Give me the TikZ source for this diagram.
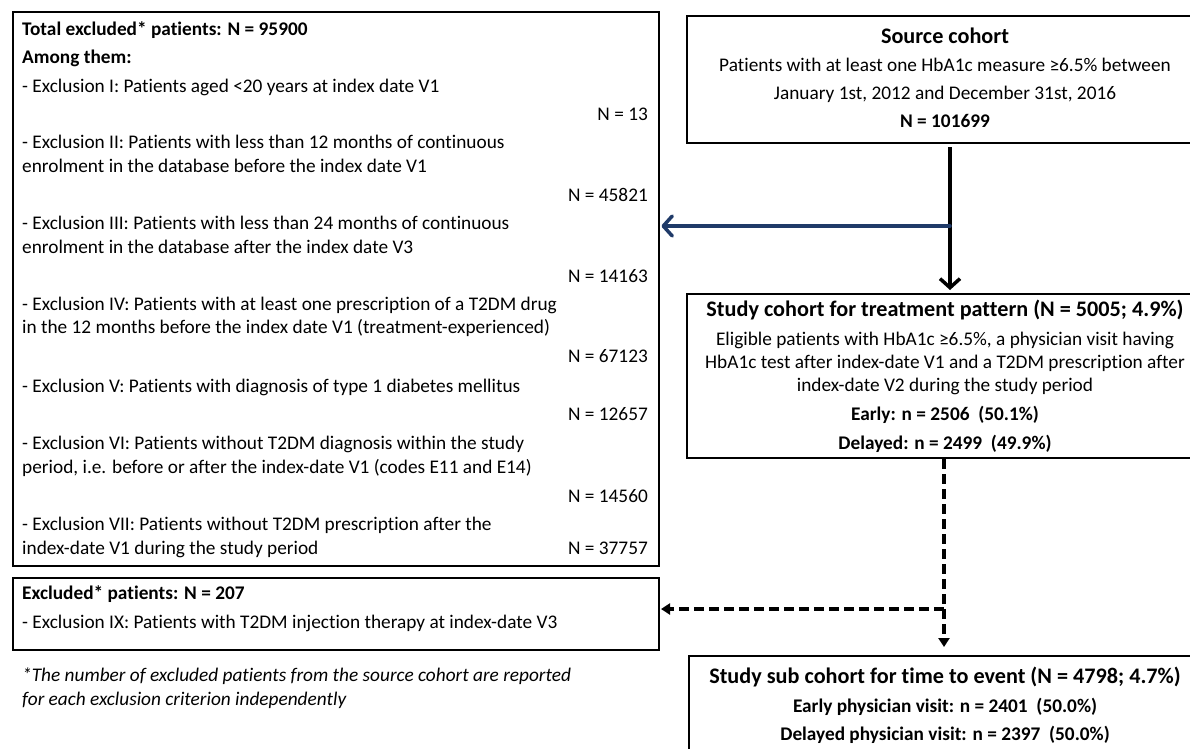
\documentclass[tikz,border=0pt]{standalone}
\usepackage{fontspec}
\setmainfont{Carlito}[Ligatures=NoCommon]
\usetikzlibrary{arrows.meta}
\definecolor{navy}{HTML}{1F3A68}
\begin{document}
\begin{tikzpicture}[x=1pt,y=-1pt,
  box/.style={draw=black, line width=2pt, anchor=north west, inner sep=0pt, fill=white},
  txt/.style={anchor=base west, inner sep=0pt, font=\fontsize{19.3}{23}\selectfont},
  txtb/.style={txt, font=\fontsize{19.3}{23}\selectfont\bfseries},
  txti/.style={txt, font=\fontsize{19.3}{23}\selectfont\itshape},
  num/.style={anchor=base east, inner sep=0pt, font=\fontsize{19.3}{23}\selectfont},
  ctr/.style={anchor=base, inner sep=0pt, font=\fontsize{19.3}{23}\selectfont},
  ctrb/.style={anchor=base, inner sep=0pt, font=\fontsize{19.3}{23}\selectfont\bfseries},
  ttl/.style={anchor=base, inner sep=0pt, font=\fontsize{22.2}{26}\selectfont\bfseries},
  solidarrow/.style={line width=3.5pt, -{Straight Barb[length=9pt,width=20pt]}},
  bluearrow/.style={draw=navy, line width=3.5pt, line cap=round, -{Straight Barb[length=9pt,width=20pt,round]}},
  dasharrow/.style={line width=3.5pt, dash pattern=on 10pt off 5pt, -{Triangle[length=9pt,width=11pt]}}
]
\path[use as bounding box, fill=white] (0,0) rectangle (1190,748);

% boxes
\node[box, minimum width=646pt, minimum height=554pt] (excl) at (12,11) {};
\node[box, minimum width=646pt, minimum height=72pt] (excl2) at (12,577) {};
\node[box, minimum width=518pt, minimum height=127pt] (src) at (686,15) {};
\node[box, minimum width=518pt, minimum height=164pt] (study) at (686,293) {};
\node[box, minimum width=516pt, minimum height=110pt] (sub) at (688,655) {};

% left box text
\node[txtb] (t1) at (22,35) {Total excluded* patients: N = 95900};
\node[txtb] (t2) at (22,63) {Among them:};
\node[txt] (t3) at (22,92) {- Exclusion I: Patients aged <20 years at index date V1};
\node[num] (n1) at (648,120) {N = 13};
\node[txt] (t4) at (22,148) {- Exclusion II: Patients with less than 12 months of continuous};
\node[txt] (t5) at (22,172) {enrolment in the database before the index date V1};
\node[num] (n2) at (648,201) {N = 45821};
\node[txt] (t6) at (22,229) {- Exclusion III: Patients with less than 24 months of continuous};
\node[txt] (t7) at (22,253) {enrolment in the database after the index date V3};
\node[num] (n3) at (648,282) {N = 14163};
\node[txt] (t8) at (22,310) {- Exclusion IV: Patients with at least one prescription of a T2DM drug};
\node[txt] (t9) at (22,333) {in the 12 months before the index date V1 (treatment-experienced)};
\node[num] (n4) at (648,362) {N = 67123};
\node[txt] (t10) at (22,392) {- Exclusion V: Patients with diagnosis of type 1 diabetes mellitus};
\node[num] (n5) at (648,420) {N = 12657};
\node[txt] (t11) at (22,449) {- Exclusion VI: Patients without T2DM diagnosis within the study};
\node[txt] (t12) at (22,473) {period, i.e. before or after the index-date V1 (codes E11 and E14)};
\node[num] (n6) at (648,502) {N = 14560};
\node[txt] (t13) at (22,530) {- Exclusion VII: Patients without T2DM prescription after the};
\node[txt] (t14) at (22,554) {index-date V1 during the study period};
\node[num] (n7) at (648,554) {N = 37757};

% excluded box 2
\node[txtb] (e1) at (22,599) {Excluded* patients: N = 207};
\node[txt] (e2) at (22,628) {- Exclusion IX: Patients with T2DM injection therapy at index-date V3};

% footnote
\node[txti] (f1) at (22,681) {*The number of excluded patients from the source cohort are reported};
\node[txti] (f2) at (22,705) {for each exclusion criterion independently};

% source
\node[ttl] (s0) at (945,43) {Source cohort};
\node[ctr] (s1) at (945,71) {Patients with at least one HbA1c measure ≥6.5\% between};
\node[ctr] (s2) at (945,99) {January 1st, 2012 and December 31st, 2016};
\node[ctrb] (s3) at (945,127) {N = 101699};

% study
\node[ttl] (c0) at (945,316) {Study cohort for treatment pattern (N = 5005; 4.9\%)};
\node[ctr] (c1) at (945,345) {Eligible patients with HbA1c ≥6.5\%, a physician visit having};
\node[ctr] (c2) at (945,368) {HbA1c test after index-date V1 and a T2DM prescription after};
\node[ctr] (c3) at (945,391) {index-date V2 during the study period};
\node[ctrb] (c4) at (945,420) {Early: n = 2506\ \ (50.1\%)};
\node[ctrb] (c5) at (945,449) {Delayed: n = 2499\ \ (49.9\%)};

% sub
\node[ttl] (u0) at (945,683) {Study sub cohort for time to event (N = 4798; 4.7\%)};
\node[ctrb] (u1) at (945,712) {Early physician visit: n = 2401\ \ (50.0\%)};
\node[ctrb] (u2) at (945,740) {Delayed physician visit: n = 2397\ \ (50.0\%)};

% connectors
\coordinate (ax) at (950,0);
\coordinate (bx) at (944,0);
\coordinate (by) at (0,226);
\coordinate (dy) at (0,609);
\draw[solidarrow, shorten <=3pt, shorten >=3pt] (src.south -| ax) -- (study.north -| ax);
\draw[bluearrow, shorten >=1.5pt] (ax |- by) -- (excl.east |- by);
\draw[dasharrow, shorten >=8pt] (study.south -| bx) -- (sub.north -| bx);
\draw[dasharrow, shorten >=1pt] (bx |- dy) -- (excl2.east |- dy);
\end{tikzpicture}
\end{document}
